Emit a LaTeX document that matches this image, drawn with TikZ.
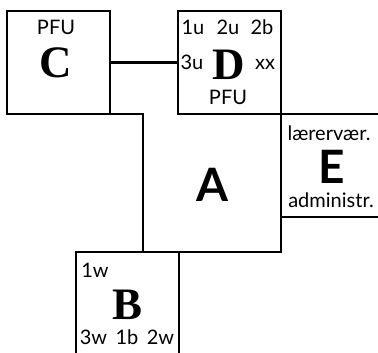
\documentclass[tikz,border=0pt]{standalone}
\usepackage{fontspec}
\setmainfont{Lato}
\newfontfamily\bigserif{Liberation Serif}
\newfontfamily\bigsans{Lato}
\begin{document}
\begin{tikzpicture}[x=1pt,y=-1pt,
  edge/.style={line width=2.4pt, line join=miter},
  boxnode/.style={draw, line width=2.4pt, minimum width=103pt, minimum height=103pt, inner sep=0pt, outer sep=0pt},
  small/.style={inner sep=0pt, font=\fontsize{20}{22}\selectfont},
  bigser/.style={inner sep=0pt, font=\fontsize{45}{47}\selectfont\bigserif\bfseries},
  bigsan/.style={inner sep=0pt, font=\fontsize{46}{48}\selectfont\bigsans\bfseries}]
\useasboundingbox (0,0) rectangle (378,353);
\fill[white] (0,0) rectangle (378,353);
% boxes C and D
\node[boxnode] (C) at (58.5,62.5) {};
\node[boxnode] (D) at (229.5,62.5) {};
\draw[edge] (C.east) -- (D.west);
% outline of A, B, E
\coordinate (a1) at (143,114);
\coordinate (a2) at (143,252);
\coordinate (b1) at (76,354);
\coordinate (b2) at (76,252);
\coordinate (b3) at (179,252);
\coordinate (b4) at (179,354);
\coordinate (a3) at (281,252);
\coordinate (e1) at (379,114);
\coordinate (e2) at (281,217);
\coordinate (e3) at (379,217);
\draw[edge] (C.south) -- (a1) -- (a2);
\draw[edge] (b1) -- (b2) -- (a3) -- (D.east);
\draw[edge] (b3) -- (b4);
\draw[edge] (D.south) -- (e1);
\draw[edge] (e2) -- (e3);
% texts C
\node[small] (cpfu) at (56,27) {PFU};
\node[bigser] (cl) at (56,63) {C};
% texts D
\node[small] (d1) at (193,27) {1u};
\node[small] (d2) at (228,27) {2u};
\node[small] (d3) at (262,27) {2b};
\node[small] (d4) at (192,62) {3u};
\node[bigser] (dl) at (229,65) {D};
\node[small] (d5) at (265,64) {xx};
\node[small] (dpfu) at (228,97) {PFU};
% A
\node[bigsan] (al) at (212,185) {A};
% E
\node[small] (e1t) at (329,133) {lærervær.};
\node[bigsan] (el) at (332,167) {E};
\node[small] (e2t) at (331,200) {administr.};
% B
\node[small] (b1t) at (95,270) {1w};
\node[bigser] (bl) at (128,305) {B};
\node[small] (b2t) at (127,337) {3w\, 1b\, 2w};
\end{tikzpicture}
\end{document}
